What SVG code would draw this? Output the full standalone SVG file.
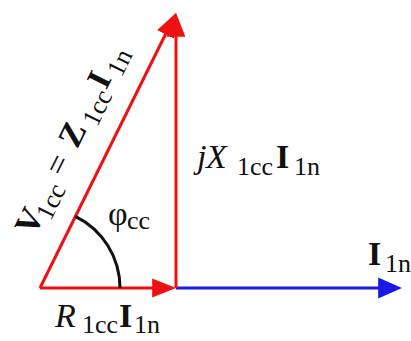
<svg xmlns="http://www.w3.org/2000/svg" width="411" height="341" viewBox="0 0 411 341">
<style>
text{font-family:"Liberation Serif","Times New Roman",serif;fill:#111}
.m{font-size:34px}
.s{font-size:26px;font-weight:normal;font-style:normal}
.b{font-weight:bold}
.i{font-style:italic}
.red{stroke:#ee1111;stroke-width:3;fill:none}
.blue{stroke:#1a1ae6;stroke-width:3;fill:none}
.arc{stroke:#111;stroke-width:3;fill:none}
</style>
<defs>
<marker id="ar" markerUnits="userSpaceOnUse" markerWidth="24" markerHeight="20" refX="18" refY="9" orient="auto" viewBox="0 0 23 18"><path d="M0,0 L23,9 L0,18 z" fill="#ee1111"/></marker>
<marker id="ab" markerUnits="userSpaceOnUse" markerWidth="24" markerHeight="22" refX="18" refY="10" orient="auto" viewBox="0 0 23 20"><path d="M0,0 L23,10 L0,20 z" fill="#1a1ae6"/></marker>
</defs>
<g id="connectors">
<path id="current" class="blue" d="M176,288 H397" marker-end="url(#ab)"/>
<path id="resistive" class="red" d="M40,288 H171" marker-end="url(#ar)"/>
<path id="reactive" class="red" d="M176,288 V18" marker-end="url(#ar)"/>
<path id="voltage" class="red" d="M40,288 L173.8,17.5" marker-end="url(#ar)"/>
<path id="angle" class="arc" d="M120,288 A80,80 0 0 0 75.4,216.3"/>
</g>
<g id="label-voltage" transform="translate(40,288) rotate(-63.7)">
<text class="m" y="-28"><tspan class="b" x="43">V</tspan><tspan class="s" x="64" y="-20">1cc</tspan><tspan x="109" y="-28">=</tspan><tspan class="b" x="140.7">Z</tspan><tspan class="s" x="169" y="-20">1cc</tspan><tspan class="b" x="206.4" y="-28">I</tspan><tspan class="s" x="224.5" y="-20">1n</tspan></text>
</g>
<g id="label-reactive">
<text class="m" y="168"><tspan class="i" x="197">j</tspan><tspan class="i" x="206">X</tspan><tspan class="s" x="237" y="175">1cc</tspan><tspan class="b" x="276" y="168">I</tspan><tspan class="s" x="294" y="175">1n</tspan></text>
</g>
<g id="label-resistive">
<text class="m" y="327"><tspan class="i" x="55">R</tspan><tspan class="s" x="82" y="333">1cc</tspan><tspan class="b" x="119" y="327">I</tspan><tspan class="s" x="134" y="333">1n</tspan></text>
</g>
<g id="label-current">
<text class="m" y="265"><tspan class="b" x="368">I</tspan><tspan class="s" x="385" y="272">1n</tspan></text>
</g>
<g id="label-angle">
<text class="m" y="225"><tspan x="108">φ</tspan><tspan class="s" x="127" y="229">cc</tspan></text>
</g>
</svg>
